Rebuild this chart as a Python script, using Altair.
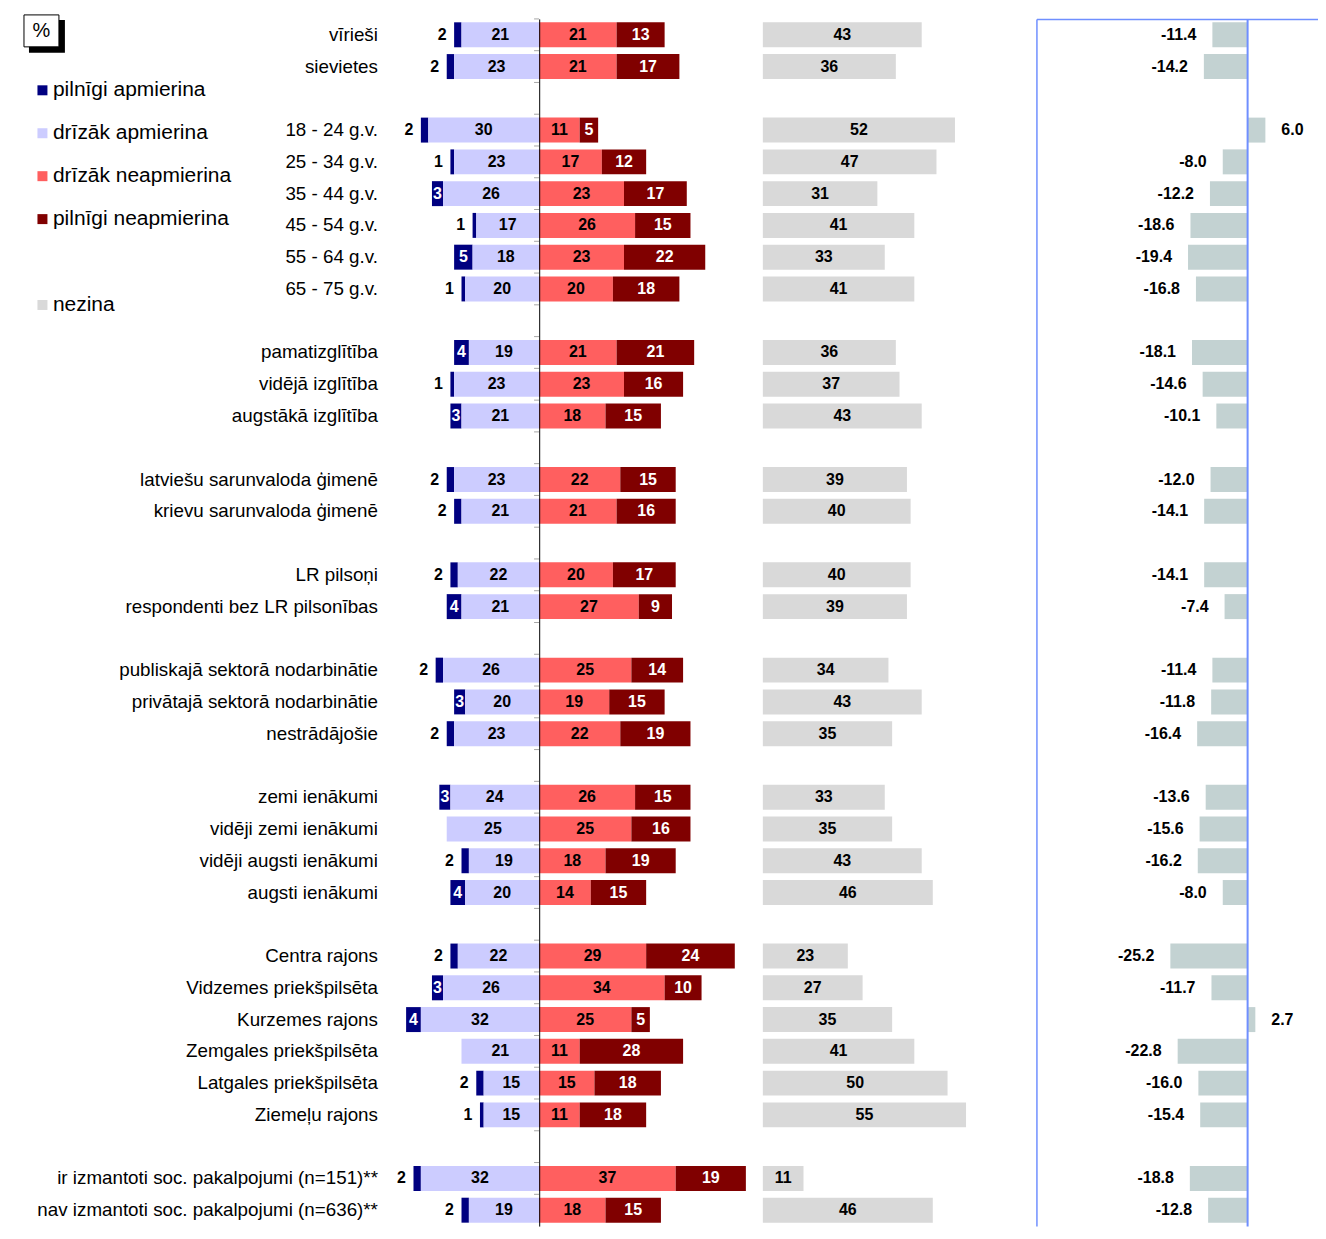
import altair as alt
import pandas as pd

categories = [
    "vīrieši", "sievietes",
    "18 - 24 g.v.", "25 - 34 g.v.", "35 - 44 g.v.", "45 - 54 g.v.", "55 - 64 g.v.", "65 - 75 g.v.",
    "pamatizglītība", "vidējā izglītība", "augstākā izglītība",
    "latviešu sarunvaloda ģimenē", "krievu sarunvaloda ģimenē",
    "LR pilsoņi", "respondenti bez LR pilsonības",
    "publiskajā sektorā nodarbinātie", "privātajā sektorā nodarbinātie", "nestrādājošie",
    "zemi ienākumi", "vidēji zemi ienākumi", "vidēji augsti ienākumi", "augsti ienākumi",
    "Centra rajons", "Vidzemes priekšpilsēta", "Kurzemes rajons", "Zemgales priekšpilsēta",
    "Latgales priekšpilsēta", "Ziemeļu rajons",
    "ir izmantoti soc. pakalpojumi (n=151)**", "nav izmantoti soc. pakalpojumi (n=636)**",
]
group_sizes = [2, 6, 3, 2, 2, 3, 4, 6, 2]

pilnigi_apmierina = [2, 2, 2, 1, 3, 1, 5, 1, 4, 1, 3, 2, 2, 2, 4, 2, 3, 2, 3, 0, 2, 4, 2, 3, 4, 0, 2, 1, 2, 2]
drizak_apmierina = [21, 23, 30, 23, 26, 17, 18, 20, 19, 23, 21, 23, 21, 22, 21, 26, 20, 23, 24, 25, 19, 20, 22, 26, 32, 21, 15, 15, 32, 19]
drizak_neapmierina = [21, 21, 11, 17, 23, 26, 23, 20, 21, 23, 18, 22, 21, 20, 27, 25, 19, 22, 26, 25, 18, 14, 29, 34, 25, 11, 15, 11, 37, 18]
pilnigi_neapmierina = [13, 17, 5, 12, 17, 15, 22, 18, 21, 16, 15, 15, 16, 17, 9, 14, 15, 19, 15, 16, 19, 15, 24, 10, 5, 28, 18, 18, 19, 15]
nezina = [43, 36, 52, 47, 31, 41, 33, 41, 36, 37, 43, 39, 40, 40, 39, 34, 43, 35, 33, 35, 43, 46, 23, 27, 35, 41, 50, 55, 11, 46]
net_index = [-11.4, -14.2, 6.0, -8.0, -12.2, -18.6, -19.4, -16.8, -18.1, -14.6, -10.1, -12.0, -14.1, -14.1, -7.4,
             -11.4, -11.8, -16.4, -13.6, -15.6, -16.2, -8.0, -25.2, -11.7, 2.7, -22.8, -16.0, -15.4, -18.8, -12.8]

seg_names = ["pilnīgi apmierina", "drīzāk apmierina", "drīzāk neapmierina", "pilnīgi neapmierina", " ", "nezina"]
seg_colors = ["#000080", "#ccccff", "#ff5f5f", "#800000", "#ffffff", "#d9d9d9"]

# y slots: categories with blank (zero-width) gap rows between groups
slots = []
k = 0
for gi, n in enumerate(group_sizes):
    slots.extend(categories[k:k + n])
    k += n
    if gi < len(group_sizes) - 1:
        slots.append("\u200b" * (gi + 1))

rows = []
for i, c in enumerate(categories):
    pa, da, dn, pn = pilnigi_apmierina[i], drizak_apmierina[i], drizak_neapmierina[i], pilnigi_neapmierina[i]
    segs = [
        (seg_names[0], -(pa + da), -da, pa),
        (seg_names[1], -da, 0, da),
        (seg_names[2], 0, dn, dn),
        (seg_names[3], dn, dn + pn, pn),
    ]
    for s, x0, x1, v in segs:
        if v <= 0:
            continue
        if s == seg_names[0]:
            kind = "white" if v >= 3 else "out"
        elif s == seg_names[3]:
            kind = "white"
        else:
            kind = "black"
        rows.append({"cat": c, "seg": s, "x0": x0, "x1": x1, "mid": (x0 + x1) / 2, "value": v, "kind": kind})
seg_df = pd.DataFrame(rows)

gray_df = pd.DataFrame({"cat": categories, "value": nezina, "seg": "nezina"})
gray_df["mid"] = gray_df["value"] / 2
net_df = pd.DataFrame({"cat": categories, "net": net_index, "lab": [f"{v:.1f}" for v in net_index]})
slot_df = pd.DataFrame({"cat": slots, "zero": [0] * len(slots)})

FONT = "Liberation Sans"
H = 1209
WA, WB, WC = 361, 257, 282
BAR = 25
FRAME = "#6f8fff"

yscale = alt.Scale(domain=slots, paddingInner=0, paddingOuter=0)
cscale = alt.Scale(domain=seg_names, range=seg_colors)
xA = alt.Scale(domain=[-41.6, 56], nice=False, zero=False)
xB = alt.Scale(domain=[0, 69.46], nice=False)
xC = alt.Scale(domain=[-69.18, 23.28], nice=False)

yaxisA = alt.Axis(title=None, ticks=False, domain=False, grid=False, labelPadding=8, labelFontSize=18.8,
                  labelFont=FONT, labelColor="#000000", labelLimit=500)
xaxisA = alt.Axis(title=None, values=[0], grid=True, gridColor="#000000", gridWidth=1, gridOpacity=1,
                  domain=False, ticks=False, labels=False, zindex=1)
yaxisC = alt.Axis(title=None, orient="left", ticks=False, labels=False, grid=False, domain=True,
                  domainColor=FRAME, domainWidth=1.5)
xaxisC = alt.Axis(title=None, orient="top", values=[0], grid=True, gridColor=FRAME, gridWidth=2,
                  gridOpacity=1, domain=True, domainColor=FRAME, domainWidth=1.5, ticks=False,
                  labels=False, zindex=1)

legend = alt.Legend(orient="none", legendX=-354, legendY=61, title=None, labelFontSize=21, labelFont=FONT,
                    labelColor="#000000", symbolType="square", symbolSize=100, symbolStrokeWidth=0,
                    rowPadding=21, labelOffset=0, padding=0, labelLimit=400)

yA = alt.Y("cat:N", scale=yscale, axis=yaxisA)

bars = alt.Chart(seg_df).mark_bar(size=BAR).encode(
    x=alt.X("x0:Q", scale=xA, axis=xaxisA), x2="x1:Q", y=yA,
    color=alt.Color("seg:N", scale=cscale, legend=legend),
)
ticks = alt.Chart(slot_df).mark_tick(orient="horizontal", size=5, thickness=1, color="#808080",
                                     xOffset=-2.5).encode(
    x=alt.X("zero:Q", scale=xA, axis=xaxisA),
    y=alt.Y("cat:N", scale=yscale, axis=yaxisA, bandPosition=0))
txt_black = alt.Chart(seg_df).transform_filter("datum.kind == 'black'").mark_text(
    fontWeight="bold", fontSize=16, font=FONT, color="#000000").encode(
    x=alt.X("mid:Q", scale=xA, axis=xaxisA), y=yA, text="value:Q")
txt_white = alt.Chart(seg_df).transform_filter("datum.kind == 'white'").mark_text(
    fontWeight="bold", fontSize=16, font=FONT, color="#ffffff").encode(
    x=alt.X("mid:Q", scale=xA, axis=xaxisA), y=yA, text="value:Q")
txt_out = alt.Chart(seg_df).transform_filter("datum.kind == 'out'").mark_text(
    fontWeight="bold", fontSize=16, font=FONT, color="#000000", dx=-12).encode(
    x=alt.X("x0:Q", scale=xA, axis=xaxisA), y=yA, text="value:Q")

# "%" box with drop shadow (decoration, placed left of the plot area)
one = pd.DataFrame({"t": ["%"]})
shadow = alt.Chart(one).mark_rect(color="#000000").encode(
    x=alt.value(-357), x2=alt.value(-321), y=alt.value(1), y2=alt.value(34))
box = alt.Chart(one).mark_rect(fill="#ffffff", stroke="#000000", strokeWidth=1).encode(
    x=alt.value(-362), x2=alt.value(-327), y=alt.value(-4), y2=alt.value(28))
pct = alt.Chart(one).mark_text(fontSize=20, font=FONT, color="#000000").encode(
    x=alt.value(-344.5), y=alt.value(12), text="t:N")

panelA = alt.layer(bars, ticks, txt_black, txt_white, txt_out, shadow, box, pct).properties(
    width=WA, height=H)

gbars = alt.Chart(gray_df).mark_bar(size=BAR).encode(
    x=alt.X("value:Q", scale=xB, axis=None),
    y=alt.Y("cat:N", scale=yscale, axis=None),
    color=alt.Color("seg:N", scale=cscale, legend=legend),
)
gtext = alt.Chart(gray_df).mark_text(fontWeight="bold", fontSize=16, font=FONT, color="#000000").encode(
    x=alt.X("mid:Q", scale=xB, axis=None),
    y=alt.Y("cat:N", scale=yscale, axis=None), text="value:Q")
panelB = alt.layer(gbars, gtext).properties(width=WB, height=H)

yC = alt.Y("cat:N", scale=yscale, axis=yaxisC)
nbars = alt.Chart(net_df).mark_bar(size=BAR, color="#c3d2d2").encode(
    x=alt.X("net:Q", scale=xC, axis=xaxisC), y=yC)
ntext_neg = alt.Chart(net_df).transform_filter("datum.net < 0").mark_text(
    fontWeight="bold", fontSize=16, font=FONT, color="#000000", align="right", dx=-16).encode(
    x=alt.X("net:Q", scale=xC, axis=xaxisC), y=yC, text="lab:N")
ntext_pos = alt.Chart(net_df).transform_filter("datum.net >= 0").mark_text(
    fontWeight="bold", fontSize=16, font=FONT, color="#000000", align="left", dx=16).encode(
    x=alt.X("net:Q", scale=xC, axis=xaxisC), y=yC, text="lab:N")
panelC = alt.layer(nbars, ntext_neg, ntext_pos).properties(width=WC, height=H)

chart = alt.hconcat(panelA, panelB, panelC, spacing=17).properties(
    padding={"left": 15, "top": 5, "right": 0, "bottom": 0}
).configure_view(stroke=None)

chart.save("out.html", embed_options={"renderer": "svg", "actions": False})
